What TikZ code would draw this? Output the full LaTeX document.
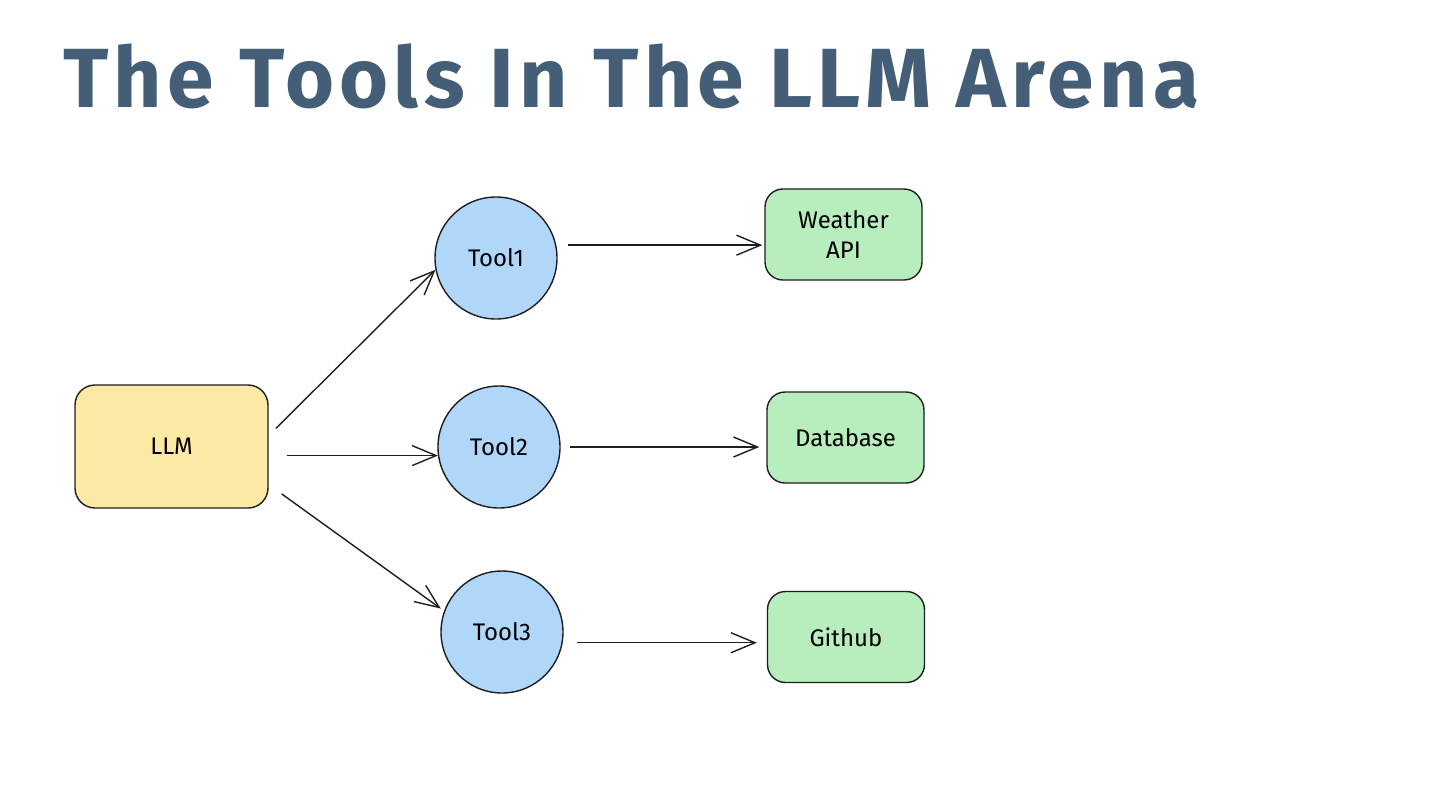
\documentclass[tikz,border=0pt]{standalone}
\usepackage{fontspec}
\setmainfont{Fira Sans}
\usetikzlibrary{arrows.meta}
\usetikzlibrary{shapes}
\definecolor{titleblue}{HTML}{445E77}
\definecolor{llmyellow}{HTML}{FBE9A5}
\definecolor{toolblue}{HTML}{B0D6FA}
\definecolor{apigreen}{HTML}{B8EDBE}
\definecolor{inkgray}{HTML}{1E1E1E}
\tikzset{
  llmbox/.style={rectangle,rounded corners=10pt,draw=inkgray,line width=0.7pt,fill=llmyellow,minimum width=96.5pt,minimum height=61.5pt,font=\fontsize{12}{14}\selectfont},
  toolnode/.style={circle,draw=inkgray,line width=0.7pt,fill=toolblue,minimum size=61pt,inner sep=0pt,font=\fontsize{12}{14}\selectfont},
  apibox/.style={rectangle,rounded corners=9pt,draw=inkgray,line width=0.7pt,fill=apigreen,minimum width=78.5pt,minimum height=45.5pt,align=center,font=\fontsize{12}{15}\selectfont},
  arr/.style={-{Straight Barb[length=12pt,width=10pt]},draw=inkgray,line width=0.7pt}
}
\begin{document}
\begin{tikzpicture}[x=0.5pt,y=-0.5pt]
\useasboundingbox (0,0) rectangle (1440,810);
\node(T) at (56,107) [anchor=base west,text=titleblue,font=\fontsize{42}{48}\selectfont\bfseries\addfontfeatures{LetterSpace=6.3}]{The Tools In The LLM Arena};
\node(L) at (171.5,446.5) [llmbox]{LLM};
\node(A) at (496,258) [toolnode]{Tool1};
\node(B) at (499,447) [toolnode]{Tool2};
\node(C) at (502,632) [toolnode]{Tool3};
\node(W) at (843.5,234.5) [apibox]{Weather\\API};
\node(D) at (845.5,437.5) [apibox]{Database};
\node(G) at (846,637) [apibox]{Github};
\draw[arr,shorten <=5pt] ([yshift=5.5pt]L.east) -- (A.191);
\draw[arr,shorten <=9pt] (B.188 -| L.east) -- (B.188);
\draw[arr,shorten <=8pt,shorten >=2pt] ([yshift=-19pt]L.east) -- (C.160);
\draw[arr,shorten <=6pt,shorten >=1pt] (A.12) -- (A.12 -| W.west);
\draw[arr,shorten <=4.5pt,shorten >=3.5pt] (B.east) -- (B.east -| D.west);
\draw[arr,shorten <=7pt,shorten >=5pt] (C.350) -- (C.350 -| G.west);
\end{tikzpicture}
\end{document}
